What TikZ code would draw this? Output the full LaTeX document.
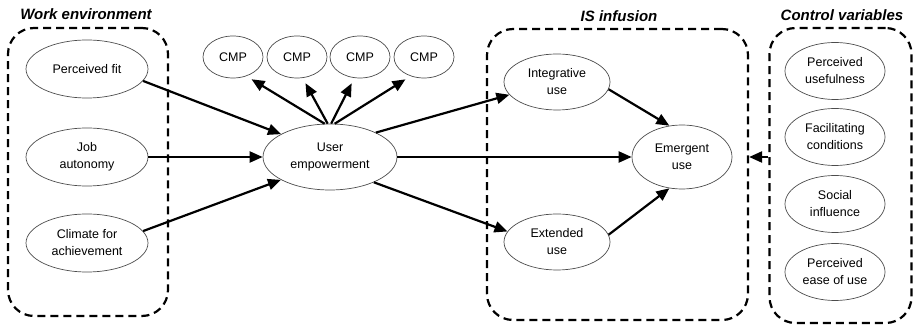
\documentclass[tikz,border=0pt]{standalone}
\usepackage{fontspec}
\setmainfont{Liberation Sans}
\usetikzlibrary{shapes.geometric,arrows.meta}
\begin{document}
\begin{tikzpicture}[x=1pt,y=-1pt,
  var/.style={ellipse,draw=black!70,line width=0.7pt,inner sep=0pt,align=center,
    font=\fontsize{12.5}{17}\selectfont},
  lvar/.style={var,minimum width=122pt,minimum height=58pt},
  cvar/.style={var,minimum width=100pt,minimum height=57pt},
  cmp/.style={var,minimum width=60pt,minimum height=42pt},
  grp/.style={draw,line width=2.2pt,dash pattern=on 8pt off 5pt,rounded corners=26pt,inner sep=0pt},
  ttl/.style={font=\fontsize{15}{17}\selectfont\bfseries\itshape},
  arr/.style={line width=2.2pt,-{Triangle[length=13pt,width=11pt]}}]
\useasboundingbox (0,0) rectangle (913,328);
% groups
\node[grp,minimum width=160pt,minimum height=288pt] (wbox) at (88,172) {};
\node[grp,minimum width=261pt,minimum height=291pt] (isbox) at (617.5,174.5) {};
\node[grp,minimum width=142pt,minimum height=295pt] (cbox) at (840.5,175.5) {};
\node[ttl] (t1) at (86,14) {Work environment};
\node[ttl] (t2) at (619,16) {IS infusion};
\node[ttl] (t3) at (842,15) {Control variables};
% work environment
\node[lvar] (pf) at (87,69) {Perceived fit};
\node[lvar] (ja) at (87,157) {Job\\autonomy};
\node[lvar] (ca) at (87,243) {Climate for\\achievement};
% user empowerment
\node[var,minimum width=134pt,minimum height=66pt] (ue) at (330,157) {User\\empowerment};
\node[cmp] (c1) at (233,57) {CMP};
\node[cmp] (c2) at (297,57) {CMP};
\node[cmp] (c3) at (360,57) {CMP};
\node[cmp] (c4) at (424,57) {CMP};
% IS infusion
\node[var,minimum width=106pt,minimum height=56pt] (iu) at (557,82) {Integrative\\use};
\node[var,minimum width=106pt,minimum height=56pt] (xu) at (557,242) {Extended\\use};
\node[var,minimum width=100pt,minimum height=64pt] (em) at (682,157) {Emergent\\use};
% control variables
\node[cvar] (pu) at (835,71) {Perceived\\usefulness};
\node[cvar] (fc) at (835,137) {Facilitating\\conditions};
\node[cvar] (si) at (835,204) {Social\\influence};
\node[cvar] (pe) at (835,272) {Perceived\\ease of use};
% arrows
\draw[arr] (pf.-12) -- (ue.155);
\draw[arr] (ja.east) -- (ue.west);
\draw[arr] (ca.12) -- (ue.205);
\draw[arr,shorten >=6pt] (ue.99) -- (c1.-55);
\draw[arr,shorten >=6pt] (ue.94) -- (c2.-75);
\draw[arr,shorten >=6pt] (ue.88) -- (c3.-105);
\draw[arr,shorten >=6pt] (ue.82) -- (c4.-125);
\draw[arr] (ue.28) -- (iu.195);
\draw[arr] (ue.east) -- (em.west);
\draw[arr] (ue.-30) -- (xu.168);
\draw[arr] (iu.-8) -- (em.112);
\draw[arr] (xu.8) -- (em.-112);
\draw[arr] (cbox.west |- em.center) -- (isbox.east |- em.center);
\end{tikzpicture}
\end{document}
